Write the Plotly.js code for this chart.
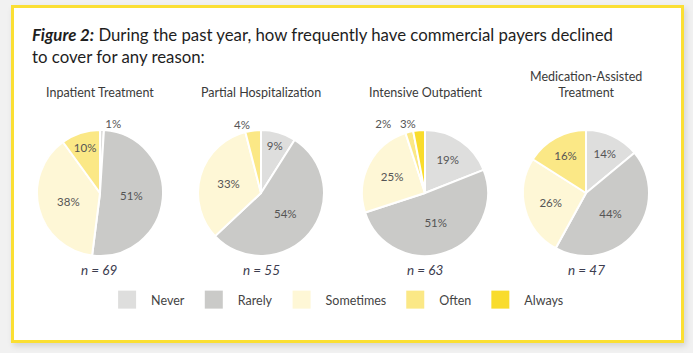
<!DOCTYPE html>
<html>
<head>
<meta charset="utf-8">
<script src="https://cdn.plot.ly/plotly-3.0.1.min.js"></script>
<style>
  html, body { margin: 0; padding: 0; width: 693px; height: 353px; background: #f1f1f1; overflow: hidden; }
  #frame { position: absolute; left: 11px; top: 5px; width: 667px; height: 332px;
           background: #ffffff; border: 3px solid #fbdf33; box-shadow: 2px 3px 6px rgba(0,0,0,0.12); }
  #chart { position: absolute; left: 0; top: 0; width: 693px; height: 353px; }
</style>
</head>
<body>
<div id="frame"></div>
<div id="chart"></div>
<script>
// ---- data ----
const categories = ["Never", "Rarely", "Sometimes", "Often", "Always"];
const pieTitles = ["Inpatient Treatment", "Partial Hospitalization", "Intensive Outpatient", "Medication-Assisted<br>Treatment"];
const sampleSizes = [69, 55, 63, 47];
const inpatient = [1, 51, 38, 10, 0];
const partialHosp = [9, 54, 33, 4, 0];
const intensiveOutpatient = [19, 51, 25, 2, 3];
const medicationAssisted = [14, 44, 26, 16, 0];
const seriesList = [inpatient, partialHosp, intensiveOutpatient, medicationAssisted];
const chartTitle = "<b><i>Figure 2:</i></b> During the past year, how frequently have commercial payers declined<br>to cover for any reason:";

// ---- styles ----
const colors = ["#dededd", "#cacac8", "#fef7d6", "#fbe886", "#f9dc2c"];
const W = 693, H = 353;
const centersX = [100, 261, 425, 586];
const centerY = 193, R = 63;
const font = "Lato, Open Sans, sans-serif";
const GAP = "\u00a0\u00a0\u00a0";

function domainFor(i) {
  return {
    x: [(centersX[i] - R) / W, (centersX[i] + R) / W],
    y: [1 - (centerY + R) / H, 1 - (centerY - R) / H]
  };
}
const pct = v => (v > 0 ? v + "%" : "");

const traces = seriesList.map((vals, i) => {
  // neighbouring small slices share one outside label, written side by side on the last of them
  const smallIdx = vals.map((v, k) => (v > 0 && v < 5 ? k : -1)).filter(k => k >= 0);
  const last = smallIdx[smallIdx.length - 1];
  const text = vals.map((v, k) => {
    if (!smallIdx.includes(k)) return pct(v);
    if (k !== last) return "";
    return smallIdx.map(j => pct(vals[j])).join(GAP);
  });
  return {
    type: "pie",
    labels: categories,
    values: vals,
    sort: false,
    direction: "clockwise",
    rotation: 0,
    marker: { colors: colors, line: { color: "#ffffff", width: 2 } },
    text: text,
    textinfo: "text",
    textposition: vals.map(v => (v >= 5 ? "inside" : "outside")),
    insidetextorientation: "horizontal",
    textfont: { family: font, size: 11.5, color: "#555555" },
    showlegend: true,
    hoverinfo: "none",
    domain: domainFor(i)
  };
});

const annotations = [{
  text: chartTitle, x: 30 / W, xref: "paper", xanchor: "left", align: "left",
  y: 1 - 22 / H, yref: "paper", yanchor: "top", showarrow: false,
  font: { family: font, size: 16.8, color: "#1e1e1e" }
}];
pieTitles.forEach((t, i) => {
  annotations.push({
    text: t, x: centersX[i] / W, xref: "paper", xanchor: "center",
    y: 1 - 102 / H, yref: "paper", yanchor: "bottom", showarrow: false,
    font: { family: font, size: 12.5, color: "#3a3a3a" }
  });
  annotations.push({
    text: "<i>n = " + sampleSizes[i] + "</i>", x: centersX[i] / W, xref: "paper", xanchor: "center",
    y: 1 - 270 / H, yref: "paper", yanchor: "middle", showarrow: false,
    font: { family: font, size: 13.5, color: "#3d3d4f" }
  });
});

const layout = {
  width: W, height: H,
  margin: { l: 0, r: 0, t: 0, b: 0 },
  paper_bgcolor: "rgba(0,0,0,0)",
  plot_bgcolor: "rgba(0,0,0,0)",
  showlegend: true,
  legend: {
    orientation: "h", x: 0.485, xanchor: "center", y: 1 - 300 / H, yanchor: "middle",
    font: { family: font, size: 12.5, color: "#444444" },
    itemwidth: 38,
    traceorder: "normal", itemclick: false
  },
  annotations: annotations
};

Plotly.newPlot("chart", traces, layout, { staticPlot: true }).then(() => {
  // larger, borderless legend swatches
  document.querySelectorAll("#chart .legend .legendpoints path").forEach(p => {
    p.setAttribute("d", "M9,9H-9V-9H9Z");
    p.style.strokeWidth = "0";
  });
});
</script>
</body>
</html>
